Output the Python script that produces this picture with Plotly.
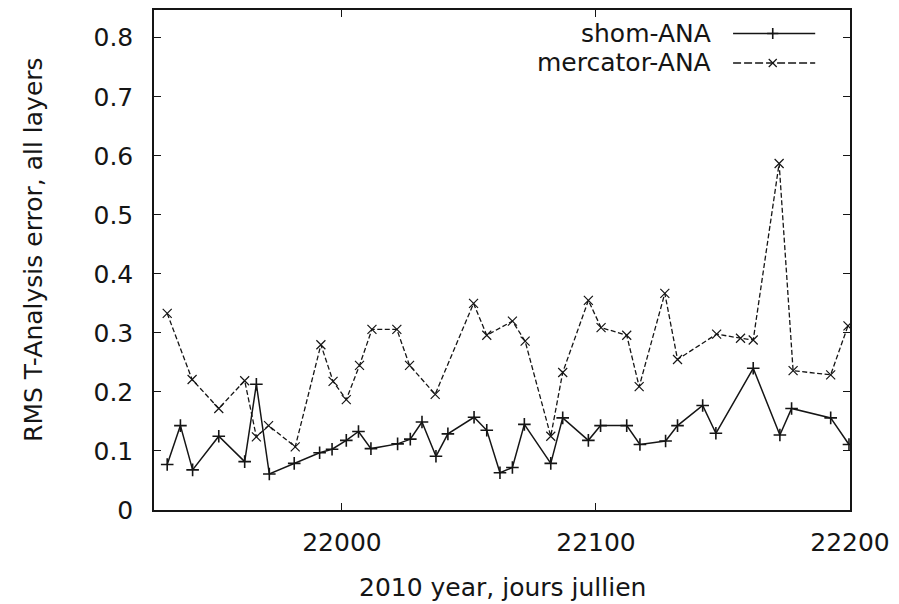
import plotly.graph_objects as go

# ---- data ----
shom_days = [21931.2, 21936.4, 21941.2, 21951.5, 21961.7, 21966.3, 21971.4, 21981.2,
             21991.2, 21996.1, 22001.7, 22006.5, 22011.4, 22021.9, 22026.9, 22031.5,
             22037.0, 22041.7, 22052.0, 22057.0, 22062.2, 22067.1, 22071.8, 22082.2,
             22086.9, 22097.0, 22101.8, 22112.1, 22117.3, 22127.4, 22132.1, 22142.0,
             22147.2, 22161.9, 22172.4, 22177.0, 22192.4, 22199.6]
shom_rms = [0.077, 0.143, 0.068, 0.125, 0.082, 0.213, 0.061, 0.079,
            0.097, 0.103, 0.118, 0.133, 0.104, 0.112, 0.120, 0.149,
            0.091, 0.129, 0.157, 0.135, 0.063, 0.072, 0.145, 0.079,
            0.156, 0.118, 0.143, 0.143, 0.111, 0.117, 0.143, 0.177,
            0.130, 0.240, 0.127, 0.172, 0.156, 0.111]

merc_days = [21931.2, 21941.0, 21951.5, 21961.7, 21966.3, 21971.1, 21981.6, 21991.7,
             21996.5, 22001.7, 22006.9, 22011.8, 22021.6, 22026.6, 22036.7, 22051.8,
             22057.0, 22067.1, 22072.1, 22082.2, 22086.9, 22097.0, 22102.0, 22112.1,
             22117.0, 22127.1, 22132.1, 22147.5, 22156.9, 22161.9, 22172.1, 22177.6,
             22192.4, 22199.2]
merc_rms = [0.333, 0.221, 0.172, 0.219, 0.124, 0.143, 0.107, 0.280,
            0.218, 0.187, 0.245, 0.306, 0.306, 0.245, 0.196, 0.350,
            0.296, 0.320, 0.286, 0.125, 0.233, 0.355, 0.309, 0.296,
            0.209, 0.367, 0.255, 0.298, 0.291, 0.288, 0.587, 0.236,
            0.229, 0.312]

series_names = ["shom-ANA", "mercator-ANA"]
x_ticks = [22000, 22100, 22200]
x_ticktext = ["22000", "22100", "22200"]
y_ticks = [0, 0.1, 0.2, 0.3, 0.4, 0.5, 0.6, 0.7, 0.8]
y_ticktext = ["0", "0.1", "0.2", "0.3", "0.4", "0.5", "0.6", "0.7", "0.8"]
x_title = "2010 year, jours jullien"
y_title = "RMS T-Analysis error, all layers"

FONT = "DejaVu Sans"
FS = 25
INK = "#151515"

fig = go.Figure()
fig.add_trace(go.Scatter(
    x=shom_days, y=shom_rms, mode="lines+markers", name=series_names[0],
    line=dict(color=INK, width=1.5),
    marker=dict(symbol="cross-thin", size=9, line=dict(color=INK, width=1.6)),
    showlegend=False))
fig.add_trace(go.Scatter(
    x=merc_days, y=merc_rms, mode="lines+markers", name=series_names[1],
    line=dict(color=INK, width=1.3, dash="5px,2.5px"),
    marker=dict(symbol="x-thin", size=9, line=dict(color=INK, width=1.2)),
    showlegend=False))

# ---- gnuplot-style legend: text, then sample line with marker ----
leg_text_x = 0.803
leg_line_x0, leg_line_x1, leg_mark_x = 0.832, 0.950, 0.889
leg_rows = [0.953, 0.894]
leg_styles = [(None, "cross-thin", 1.6), ("8px,3px", "x-thin", 1.2)]
for name, ly, (dash, sym, mw) in zip(series_names, leg_rows, leg_styles):
    fig.add_annotation(x=leg_text_x, y=ly, xref="paper", yref="paper",
                       text=name, showarrow=False, xanchor="right", yanchor="middle",
                       font=dict(family=FONT, size=FS, color=INK))
    ld = dict(color=INK, width=1.4)
    if dash:
        ld["dash"] = dash
    fig.add_shape(type="line", xref="paper", yref="paper",
                  x0=leg_line_x0, x1=leg_line_x1, y0=ly, y1=ly, line=ld)
    fig.add_trace(go.Scatter(
        x=[leg_mark_x], y=[ly], xaxis="x2", yaxis="y2", mode="markers",
        marker=dict(symbol=sym, size=8, line=dict(color=INK, width=mw)),
        showlegend=False, hoverinfo="skip"))

# axis titles
fig.add_annotation(x=0.5, y=-0.155, xref="paper", yref="paper", text=x_title,
                   showarrow=False, xanchor="center", yanchor="middle",
                   font=dict(family=FONT, size=FS, color=INK))
fig.add_annotation(x=-0.174, y=0.52, xref="paper", yref="paper", text=y_title,
                   showarrow=False, xanchor="center", yanchor="middle", textangle=-90,
                   font=dict(family=FONT, size=FS, color=INK))

axis_common = dict(showline=True, linecolor=INK, linewidth=1.5, mirror="ticks",
                   ticks="inside", ticklen=7, tickwidth=1.3, tickcolor=INK,
                   showgrid=False, zeroline=False,
                   tickfont=dict(family=FONT, size=FS, color=INK))

fig.update_layout(
    width=899, height=604,
    margin=dict(l=154, r=49, t=8, b=94),
    paper_bgcolor="white", plot_bgcolor="white",
    font=dict(family=FONT, size=FS, color=INK),
    xaxis=dict(range=[21926, 22200], tickmode="array", tickvals=x_ticks,
               ticktext=x_ticktext, ticklabelstandoff=9, **axis_common),
    yaxis=dict(range=[0, 0.847], tickmode="array", tickvals=y_ticks,
               ticktext=y_ticktext, ticklabelstandoff=14, **axis_common),
    xaxis2=dict(overlaying="x", range=[0, 1], visible=False),
    yaxis2=dict(overlaying="y", range=[0, 1], visible=False),
    showlegend=False,
)

fig.write_html("out.html")
